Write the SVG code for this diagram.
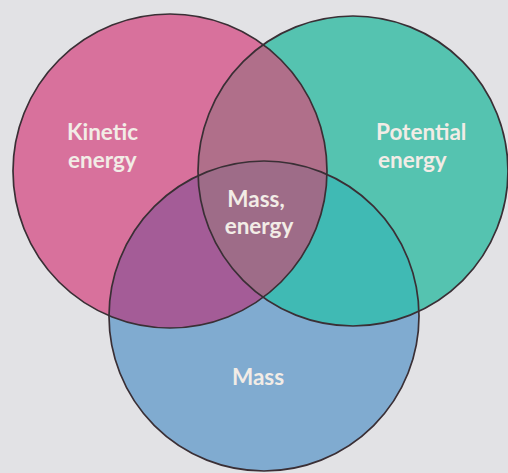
<svg xmlns="http://www.w3.org/2000/svg" width="508" height="473" viewBox="0 0 508 473">
<style>
.lbl{font-family:Lato,"Open Sans","DejaVu Sans",sans-serif;font-weight:700;font-size:22.5px;fill:#f2ece6}
.ol{fill:none;stroke:#3a2f35;stroke-width:1.7}
</style>
<defs>
<circle id="cP" cx="170" cy="171" r="157"/>
<circle id="cT" cx="353" cy="171" r="155"/>
<circle id="cB" cx="264" cy="316" r="155"/>
<clipPath id="clipP"><use href="#cP"/></clipPath>
<clipPath id="clipT"><use href="#cT"/></clipPath>
</defs>
<rect width="508" height="473" fill="#e2e2e5"/>
<g id="fills">
<use href="#cP" fill="#d8719c"/>
<use href="#cT" fill="#55c3b0"/>
<use href="#cB" fill="#80abd0"/>
<g clip-path="url(#clipP)">
<use href="#cT" fill="#b06f8a"/>
<use href="#cB" fill="#a45c97"/>
</g>
<g clip-path="url(#clipT)">
<use href="#cB" fill="#40bab4"/>
<g clip-path="url(#clipP)"><use href="#cB" fill="#9e6c88"/></g>
</g>
</g>
<g id="kinetic">
<use href="#cP" class="ol"/>
<text class="lbl" x="67" y="140">Kinetic</text>
<text class="lbl" x="68" y="168">energy</text>
</g>
<g id="potential">
<use href="#cT" class="ol"/>
<text class="lbl" x="376" y="140">Potential</text>
<text class="lbl" x="378" y="168">energy</text>
</g>
<g id="mass">
<use href="#cB" class="ol"/>
<text class="lbl" x="258" y="385" text-anchor="middle">Mass</text>
</g>
<g id="massenergy">
<text class="lbl" x="256" y="207" text-anchor="middle">Mass,</text>
<text class="lbl" x="259" y="234" text-anchor="middle">energy</text>
</g>
<g id="connectors"/>
</svg>
